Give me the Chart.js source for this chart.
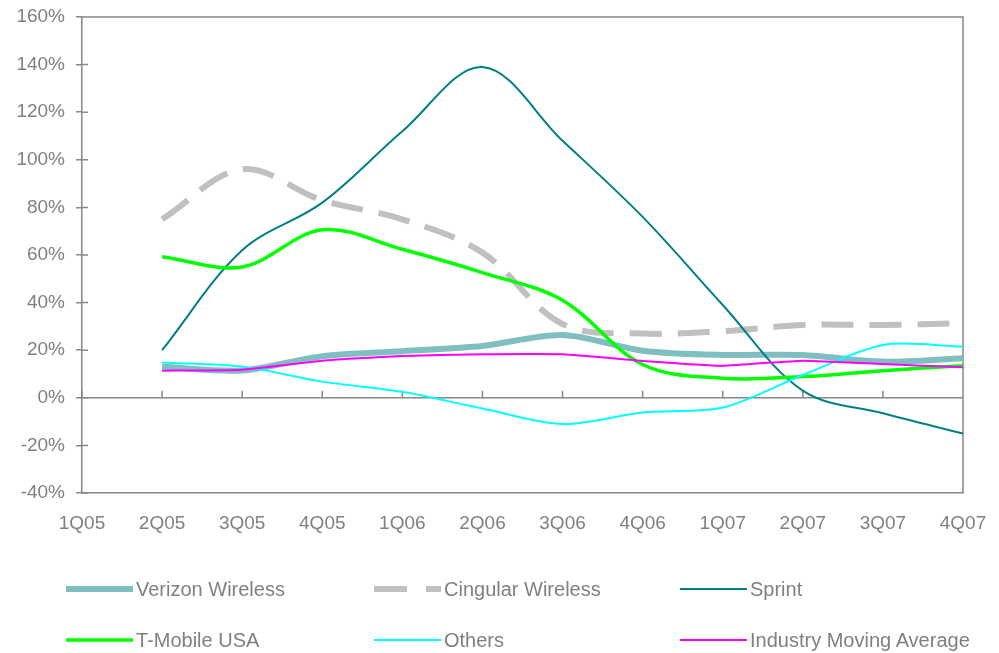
<!DOCTYPE html>
<html lang="en">
<head>
  <meta charset="UTF-8" />
  <title>Subscriber Growth by Carrier</title>
  <script src="https://cdn.jsdelivr.net/npm/chart.js"></script>
  <style>
    body {
      margin: 0;
      background: #fff;
      font-family: "Liberation Sans", Arial, sans-serif;
    }

    .wrap {
      position: relative;
      width: 999px;
      height: 653px;
    }

    .legend {
      position: absolute;
      left: 0;
      top: 0;
      width: 999px;
      height: 653px;
      pointer-events: none;
    }

    .legend-item {
      position: absolute;
      display: flex;
      align-items: center;
      height: 30px;
      color: #808080;
      font-size: 20px;
      white-space: nowrap;
    }

    .legend-item canvas {
      margin-right: 3px;
    }
  </style>
</head>
<body>
  <div class="wrap">
    <canvas id="chart"></canvas>
    <div class="legend" id="legend"></div>
  </div>

  <script>
    const quarters = ["1Q05", "2Q05", "3Q05", "4Q05", "1Q06", "2Q06", "3Q06", "4Q06", "1Q07", "2Q07", "3Q07", "4Q07"];

    const verizon  = [null, 13, 11.5, 17.5, 19.6, 21.8, 26.4, 19.8, 18, 18, 15.2, 16.6];
    const cingular = [null, 75, 96, 83, 75, 61, 31, 27, 28, 30.6, 30.6, 31.3];
    const sprint   = [null, 20, 62, 82, 112, 139, 108, 76, 39, 3, -6.5, -15];
    const tmobile  = [null, 59.3, 55, 70.6, 62.4, 52.6, 41, 14, 8.2, 8.9, 11.4, 13.5];
    const others   = [null, 14.8, 13.1, 6.8, 2.5, -4.5, -11, -6.2, -4.1, 9.6, 22.2, 21.5];
    const industry = [null, 11.4, 11.8, 15.6, 17.6, 18.3, 18.3, 15.5, 13.5, 15.6, 14.2, 12.8];

    const yTicks = { min: -40, max: 160, step: 20 };

    const FONT = "'Liberation Sans', Arial, sans-serif";
    const AXIS = "#888";

    // frame on top/right, small ticks on the 0% line and inner halves of y ticks
    const framePlugin = {
      id: "frame",
      beforeDatasetsDraw(chart) {
        const { ctx, chartArea: a, scales: { x, y } } = chart;
        ctx.save();
        ctx.strokeStyle = AXIS;
        ctx.lineWidth = 1.5;
        ctx.beginPath();
        ctx.moveTo(a.left, a.top);
        ctx.lineTo(a.right, a.top);
        ctx.lineTo(a.right, a.bottom);
        const y0 = y.getPixelForValue(0);
        x.ticks.forEach((t, i) => {
          const px = x.getPixelForTick(i);
          ctx.moveTo(px, y0);
          ctx.lineTo(px, y0 - 7);
        });
        y.ticks.forEach((t, i) => {
          const py = y.getPixelForTick(i);
          ctx.moveTo(a.left, py);
          ctx.lineTo(a.left + 6, py);
        });
        ctx.stroke();
        ctx.restore();
      }
    };

    const chart = new Chart(document.getElementById("chart"), {
      type: "line",
      data: {
        labels: quarters,
        datasets: [
          { label: "Verizon Wireless", data: verizon, borderColor: "#7fbfbf", borderWidth: 6, tension: 0.3, order: 6 },
          { label: "Cingular Wireless", data: cingular, borderColor: "#c0c0c0", borderWidth: 6, borderDash: [32, 16], tension: 0.35, order: 5 },
          { label: "Sprint", data: sprint, borderColor: "#008080", borderWidth: 2, tension: 0.35, order: 4 },
          { label: "T-Mobile USA", data: tmobile, borderColor: "#00ff00", borderWidth: 3.5, tension: 0.35, order: 3 },
          { label: "Others", data: others, borderColor: "#00ffff", borderWidth: 2, tension: 0.3, order: 2 },
          { label: "Industry Moving Average", data: industry, borderColor: "#ff00ff", borderWidth: 2, tension: 0.15, order: 1 }
        ]
      },
      options: {
        responsive: true,
        maintainAspectRatio: false,
        animation: false,
        elements: { point: { radius: 0 }, line: { borderCapStyle: "butt", fill: false } },
        layout: { padding: { left: 0, right: 36, top: 17, bottom: 100 } },
        plugins: {
          legend: { display: false },
          tooltip: { enabled: false }
        },
        scales: {
          x: {
            offset: false,
            afterFit: s => { s.height = 60; s.paddingLeft = 0; s.paddingRight = 0; },
            ticks: { color: "#808080", font: { family: FONT, size: 19 }, padding: 19, maxRotation: 0, autoSkip: false },
            grid: { display: false, drawTicks: false },
            border: { display: true, color: AXIS, width: 1.5 }
          },
          y: {
            min: yTicks.min,
            max: yTicks.max,
            afterFit: s => { s.width = 82; s.paddingTop = 0; s.paddingBottom = 0; },
            ticks: {
              stepSize: yTicks.step,
              color: "#808080",
              font: { family: FONT, size: 19 },
              padding: 11,
              callback: v => v + "%"
            },
            grid: {
              drawOnChartArea: true,
              drawTicks: true,
              tickLength: 6,
              tickColor: AXIS,
              lineWidth: 1.5,
              color: c => (c.tick && c.tick.value === 0 ? AXIS : "rgba(0,0,0,0)")
            },
            border: { display: true, color: AXIS, width: 1.5 }
          }
        }
      },
      plugins: [framePlugin]
    });

    // legend laid out in two rows of three, like the original
    const legendEl = document.getElementById("legend");
    const colLeft = [66, 374, 680];
    const rowMid = [589, 640];
    chart.data.datasets.forEach((ds, i) => {
      const item = document.createElement("div");
      item.className = "legend-item";
      item.style.left = colLeft[i % 3] + "px";
      item.style.top = (rowMid[Math.floor(i / 3)] - 15) + "px";
      const c = document.createElement("canvas");
      c.width = 67;
      c.height = 10;
      const g = c.getContext("2d");
      g.strokeStyle = ds.borderColor;
      g.lineWidth = ds.borderWidth;
      if (ds.borderDash) g.setLineDash([33, 19]);
      g.beginPath();
      g.moveTo(0, 5);
      g.lineTo(67, 5);
      g.stroke();
      item.appendChild(c);
      const span = document.createElement("span");
      span.textContent = ds.label;
      item.appendChild(span);
      legendEl.appendChild(item);
    });
  </script>
</body>
</html>
